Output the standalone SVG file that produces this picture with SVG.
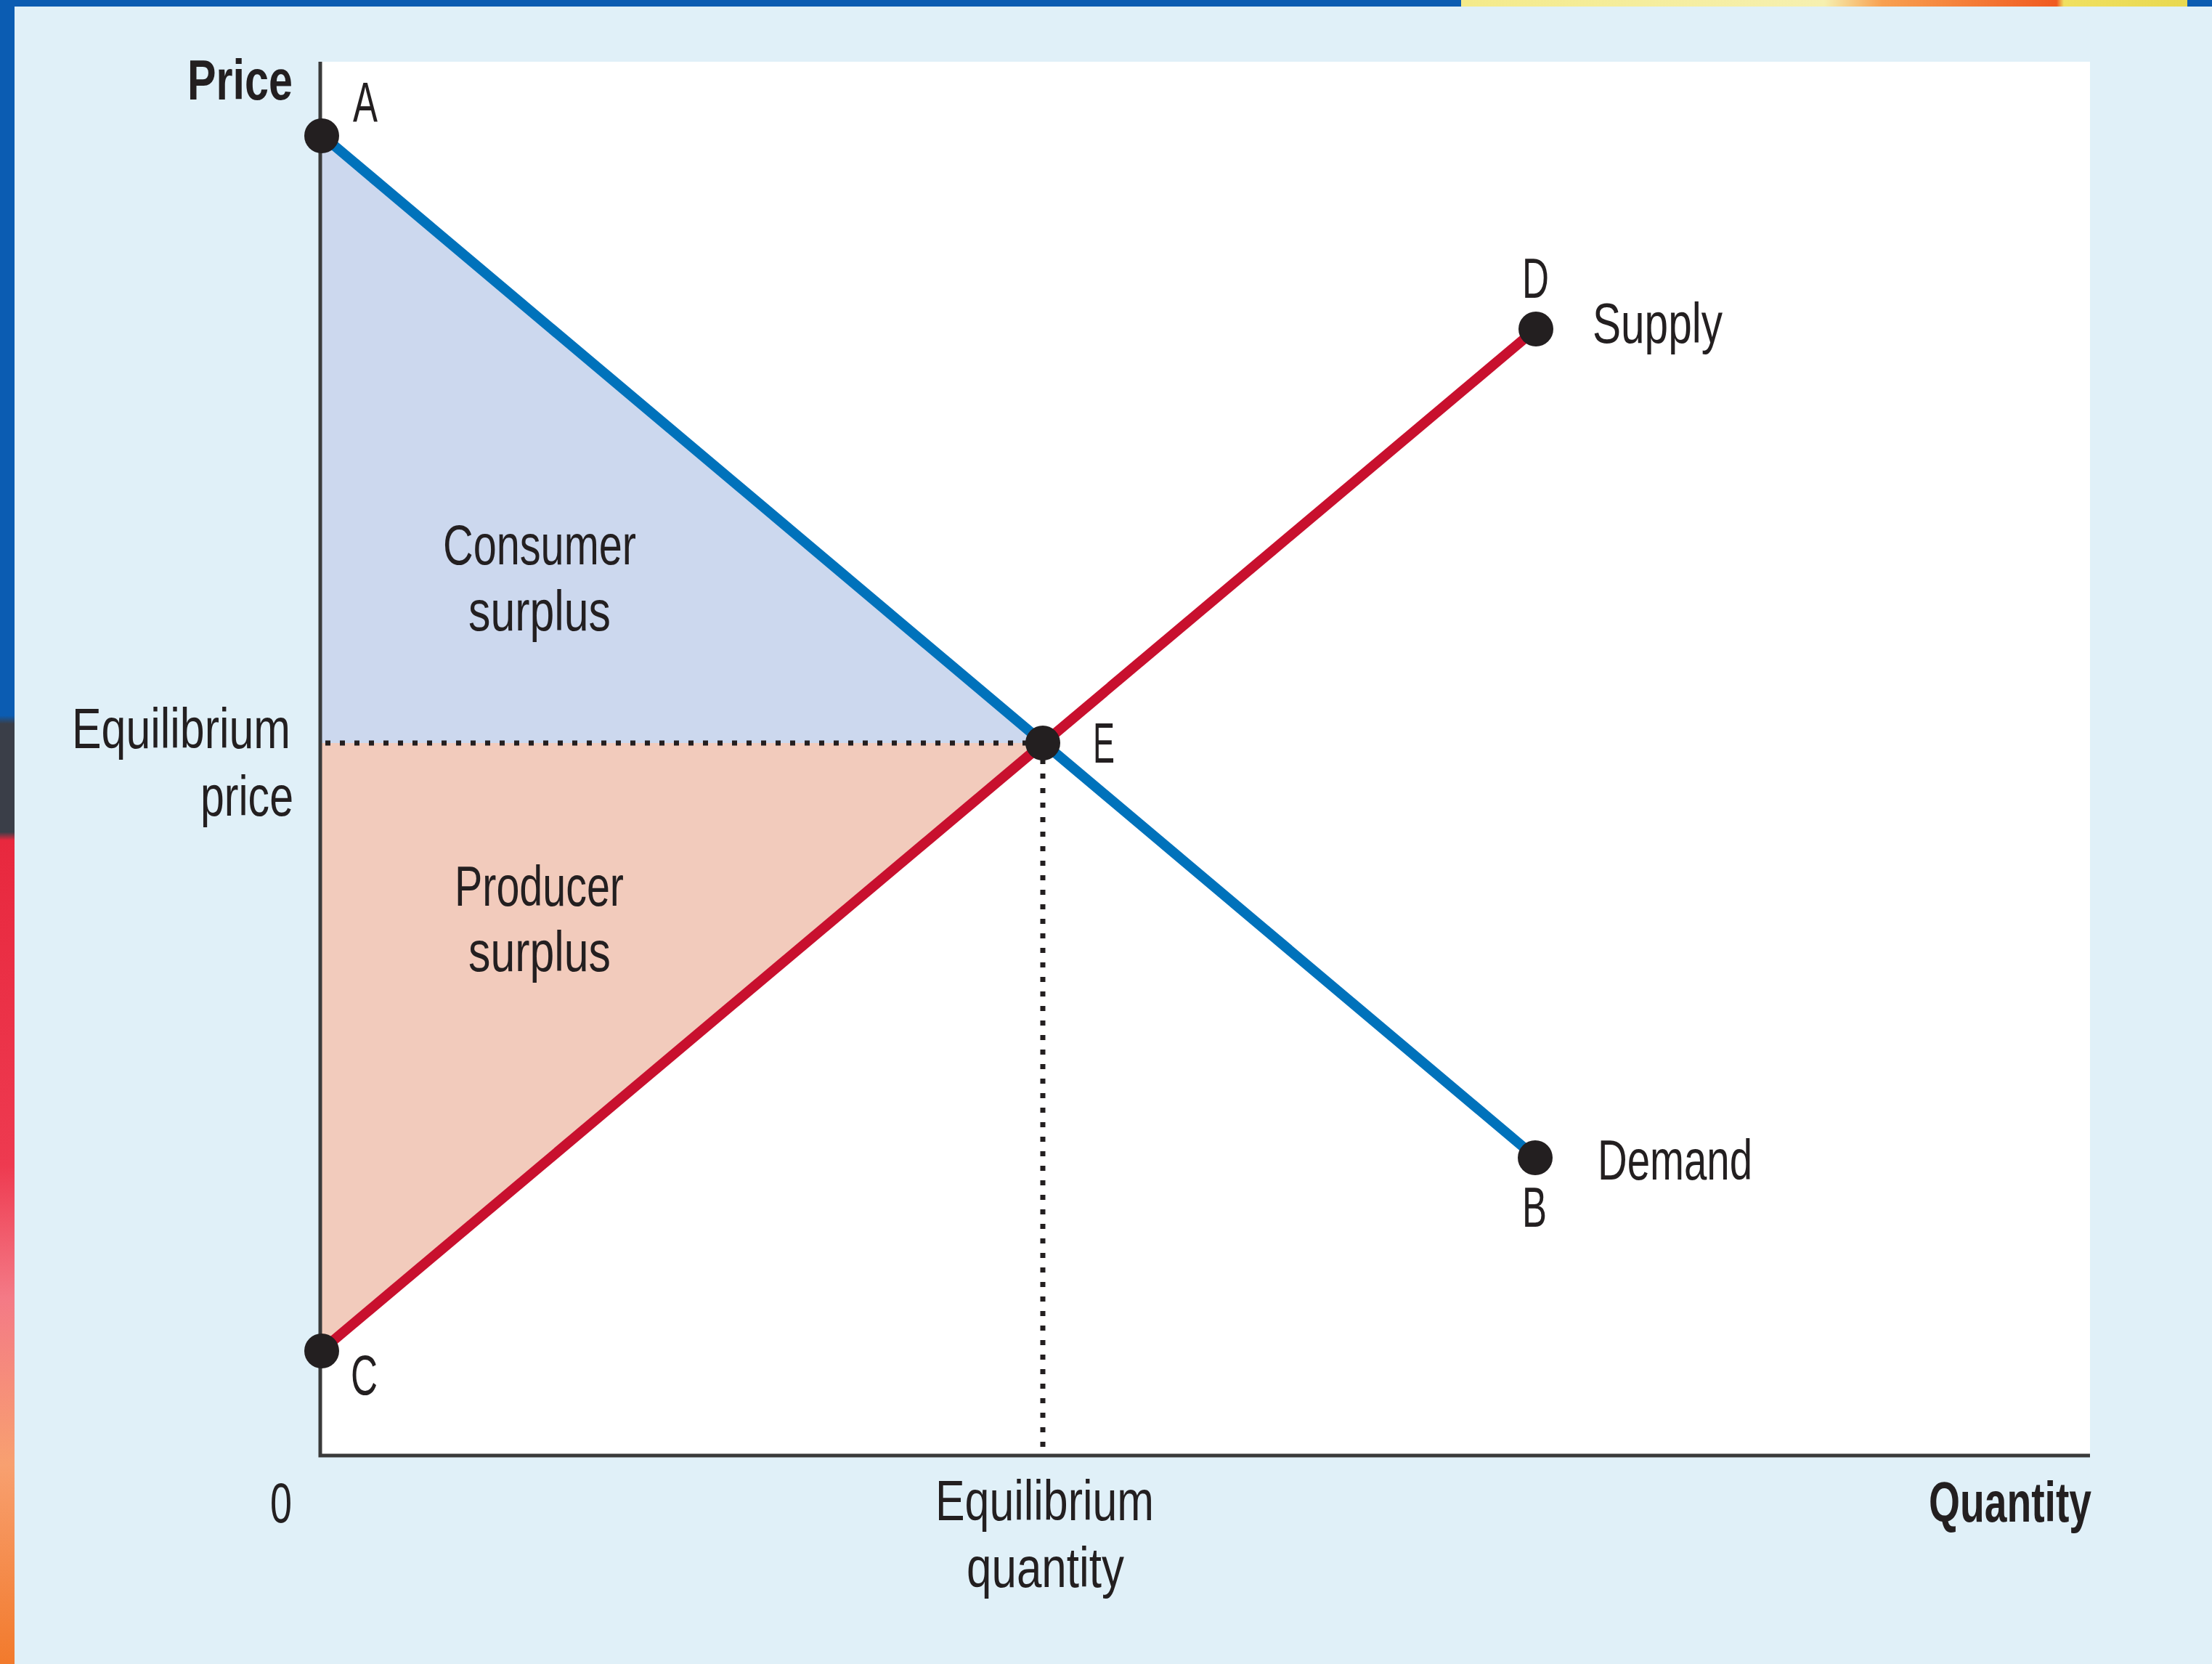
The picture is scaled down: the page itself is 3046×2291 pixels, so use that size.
<svg xmlns="http://www.w3.org/2000/svg" width="3046" height="2291" viewBox="0 0 3046 2291">
<defs>
<linearGradient id="wall" x1="0" y1="0" x2="0" y2="1">
<stop offset="0" stop-color="#0b5cb2"/>
<stop offset="0.43" stop-color="#0b5cb2"/>
<stop offset="0.435" stop-color="#3a3e48"/>
<stop offset="0.5" stop-color="#3a3e48"/>
<stop offset="0.505" stop-color="#e8283e"/>
<stop offset="0.7" stop-color="#ee3a50"/>
<stop offset="0.78" stop-color="#f47a86"/>
<stop offset="0.88" stop-color="#f8a070"/>
<stop offset="1" stop-color="#f27a2c"/>
</linearGradient>
<linearGradient id="topwall" x1="0" y1="0" x2="1" y2="0">
<stop offset="0" stop-color="#f4ea8a"/>
<stop offset="0.5" stop-color="#f6f0b0"/>
<stop offset="0.58" stop-color="#f8a050"/>
<stop offset="0.82" stop-color="#f05a20"/>
<stop offset="0.83" stop-color="#f0e060"/>
<stop offset="1" stop-color="#e8d850"/>
</linearGradient>
</defs>
<style>
.t{font-family:"Liberation Sans Narrow","Liberation Sans",Arial,sans-serif;font-size:78px;fill:#231f20;}
.b{font-weight:bold;}
.dot{fill:#231f20;}
.axis{stroke:#3a3a3a;stroke-width:5;fill:none;}
.dotted{stroke:#231f20;stroke-width:7;stroke-dasharray:7 13;fill:none;}
.demand{stroke:#0072bb;stroke-width:14;fill:none;}
.supply{stroke:#c8102e;stroke-width:14;fill:none;}
</style>
<rect x="0" y="0" width="3046" height="2291" fill="#e0f0f8"/>
<rect x="0" y="0" width="20" height="2291" fill="url(#wall)"/>
<rect x="0" y="0" width="3046" height="9" fill="#0b5cb2"/>
<rect x="2012" y="0" width="1000" height="9" fill="url(#topwall)"/>
<rect x="441" y="85" width="2437" height="1919" fill="#ffffff"/>
<g id="areas">
<polygon id="consumer-surplus-area" points="443,186 1436,1023 443,1023" fill="#ccd8ee"/>
<polygon id="producer-surplus-area" points="443,1023 1436,1023 443,1859" fill="#f2cbbc"/>
</g>
<g id="axes">
<polyline class="axis" points="441,85 441,2004 2878,2004"/>
</g>
<g id="connectors">
<line class="dotted" x1="448" y1="1023" x2="1420" y2="1023"/>
<line class="dotted" x1="1436" y1="1045" x2="1436" y2="2000"/>
<line id="demand-line" class="demand" x1="443" y1="186" x2="2114" y2="1593"/>
<line id="supply-line" class="supply" x1="443" y1="1859" x2="2115" y2="453"/>
</g>
<g id="point-A"><circle class="dot" cx="443" cy="187" r="24"/><text class="t" x="486" y="168" textLength="34" lengthAdjust="spacingAndGlyphs">A</text></g>
<g id="point-D"><circle class="dot" cx="2115" cy="453" r="24"/><text class="t" x="2096" y="410" textLength="37" lengthAdjust="spacingAndGlyphs">D</text></g>
<g id="point-E"><circle class="dot" cx="1436" cy="1023" r="24"/><text class="t" x="1505" y="1050" textLength="30" lengthAdjust="spacingAndGlyphs">E</text></g>
<g id="point-B"><circle class="dot" cx="2114" cy="1594" r="24"/><text class="t" x="2096" y="1689" textLength="34" lengthAdjust="spacingAndGlyphs">B</text></g>
<g id="point-C"><circle class="dot" cx="443" cy="1860" r="24"/><text class="t" x="483" y="1920" textLength="37" lengthAdjust="spacingAndGlyphs">C</text></g>
<g id="labels">
<text class="t b" x="258" y="137" textLength="145" lengthAdjust="spacingAndGlyphs">Price</text>
<text class="t" x="2193" y="472" textLength="179" lengthAdjust="spacingAndGlyphs">Supply</text>
<text class="t" x="2200" y="1624" textLength="213" lengthAdjust="spacingAndGlyphs">Demand</text>
<text class="t b" x="2656" y="2095" textLength="224" lengthAdjust="spacingAndGlyphs">Quantity</text>
<text class="t" x="372" y="2096" textLength="30" lengthAdjust="spacingAndGlyphs">0</text>
<text class="t" x="99" y="1030" textLength="301" lengthAdjust="spacingAndGlyphs">Equilibrium</text>
<text class="t" x="276" y="1123" textLength="128" lengthAdjust="spacingAndGlyphs">price</text>
<text class="t" x="1288" y="2093" textLength="301" lengthAdjust="spacingAndGlyphs">Equilibrium</text>
<text class="t" x="1331" y="2185" textLength="217" lengthAdjust="spacingAndGlyphs">quantity</text>
<text class="t" x="610" y="777" textLength="266" lengthAdjust="spacingAndGlyphs">Consumer</text>
<text class="t" x="645" y="868" textLength="196" lengthAdjust="spacingAndGlyphs">surplus</text>
<text class="t" x="626" y="1247" textLength="233" lengthAdjust="spacingAndGlyphs">Producer</text>
<text class="t" x="645" y="1337" textLength="196" lengthAdjust="spacingAndGlyphs">surplus</text>
</g>
</svg>
